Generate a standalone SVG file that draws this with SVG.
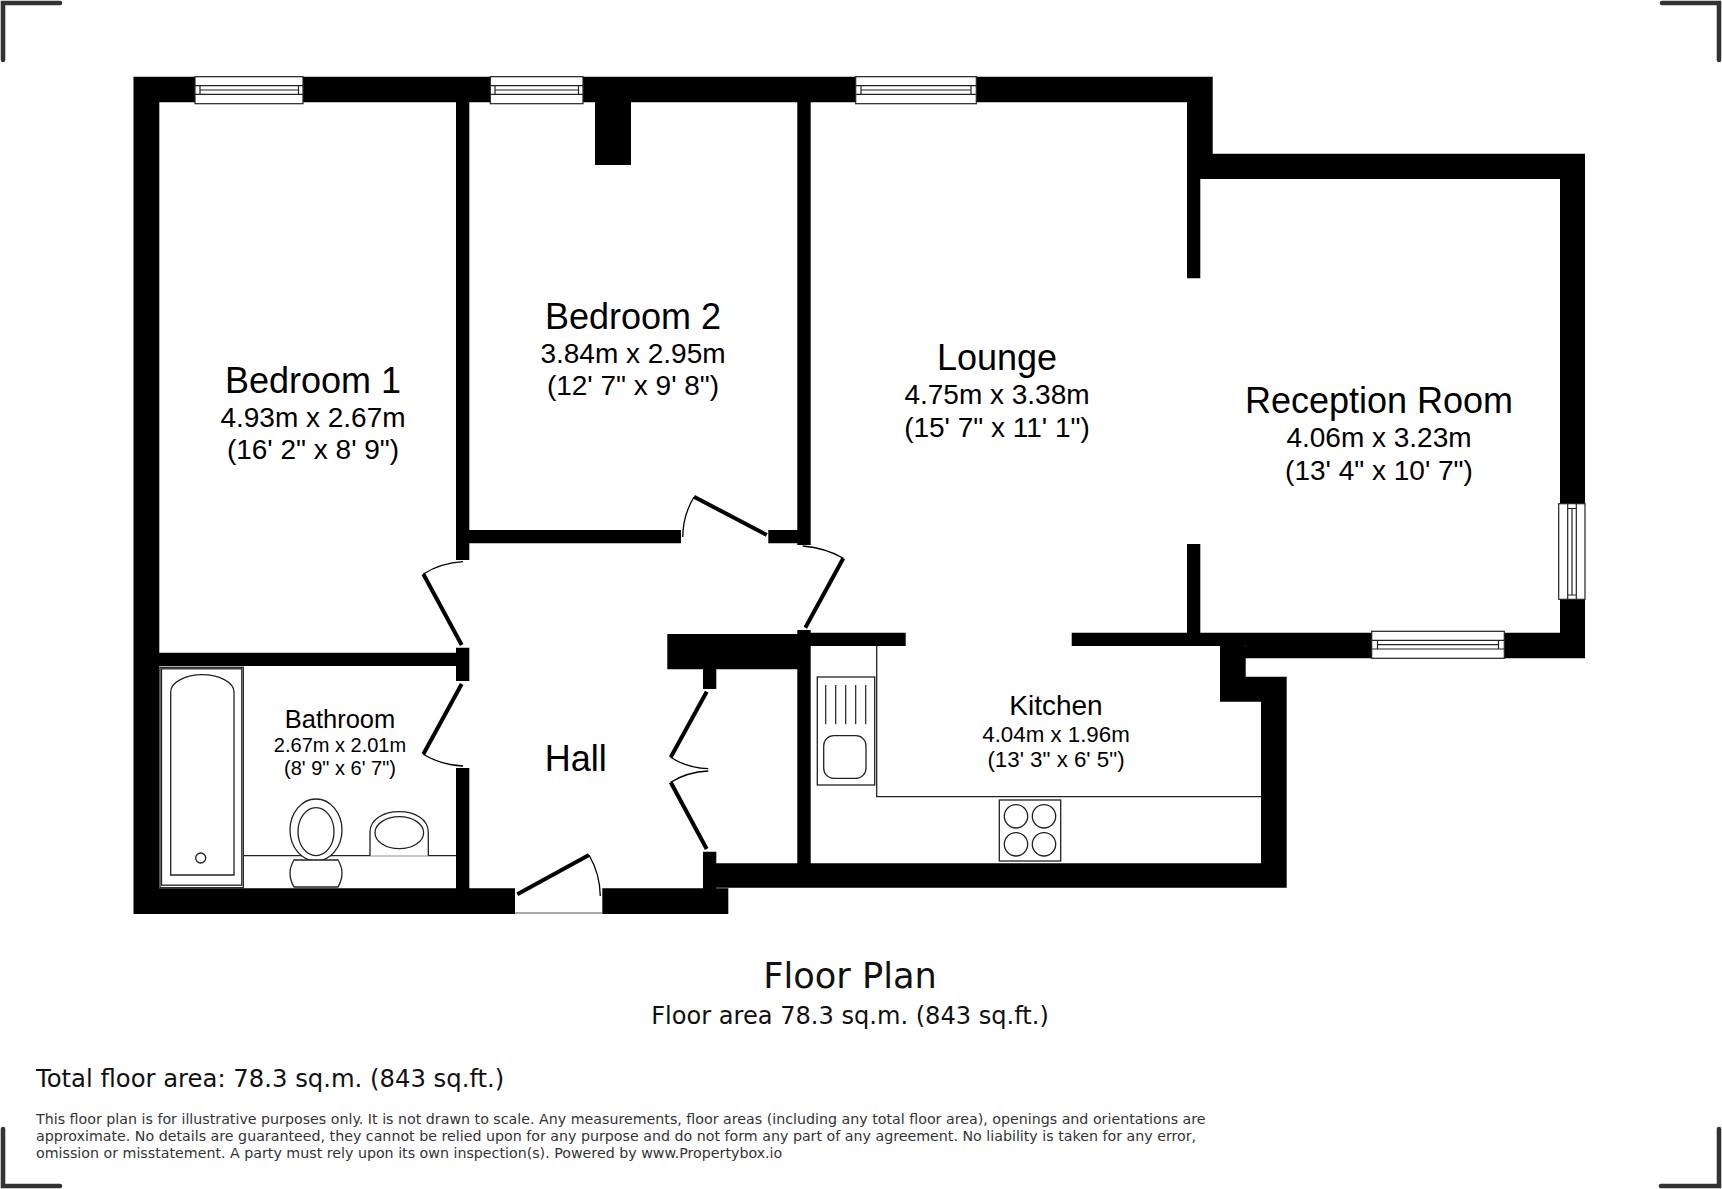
<svg xmlns="http://www.w3.org/2000/svg" width="1722" height="1189" viewBox="0 0 1722 1189">
<style>
.w{fill:#000}
.win{fill:#fff;stroke:#222;stroke-width:1.2}
.leaf{fill:none;stroke:#000;stroke-width:4}
.arc{fill:none;stroke:#000;stroke-width:1.3}
.fx{fill:#fff;stroke:#222;stroke-width:1.3}
.c{fill:none;stroke:#333;stroke-width:4.6;stroke-linecap:round;stroke-linejoin:miter}
text{font-family:"Liberation Sans",Arial,sans-serif;fill:#000;text-anchor:middle}
.n1{font-size:36px}.d1{font-size:28px}
.f{font-family:"DejaVu Sans",Verdana,sans-serif;fill:#111}
.s{font-size:14.23px;text-anchor:start;fill:#333}
</style>
<rect width="1722" height="1189" fill="#fff"/>
<g id="corners">
<path class="c" d="M3 60V3H60"/><path class="c" d="M1662 3H1719V60"/><path class="c" d="M3 1129V1186H60"/><path class="c" d="M1661 1186H1719V1129"/>
</g>
<g id="walls">
<path class="w" d="M133.500 76.700H1212.700V102.300H133.500Z
M133.500 76.700H159.300V914H133.500Z
M456 102H469.300V560H456Z
M469 530H681V543.300H469Z
M768.300 530H797.300V543.300H768.300Z
M797.300 102H810.700V545H797.300Z
M1187 76.700H1212.700V179H1187Z
M1187 179H1200.300V278.300H1187Z
M1187 153.700H1585V179H1187Z
M1560 153.700H1585V658.300H1560Z
M1187 544H1200.300V646H1187Z
M797.300 632.700H905.700V646H797.300Z
M1071.700 632.700H1245.700V646H1071.700Z
M1245.700 632.700H1585V658.300H1245.700Z
M1220 646H1245.700V701.700H1220Z
M1220 676.700H1286.700V701.700H1220Z
M1261 676.700H1286.700V887.700H1261Z
M716.300 863.300H1286.700V887.700H716.300Z
M797.300 630H810.700V864H797.300Z
M667.300 634H797.300V669.300H667.300Z
M703 669H716.300V689H703Z
M703 851.700H716.300V888.500H703Z
M133.500 888.300H515V914H133.500Z
M602.300 888.300H728.300V914H602.300Z
M159 652.700H456V666H159Z
M456 647.700H469.300V681H456Z
M456 768H469.300V889H456Z
M595 102H631V165H595Z"/>
<path d="M515 913H602.300" stroke="#555" stroke-width="1" fill="none"/>
</g>
<g id="windows">
<g id="window1"><rect class="win" x="195" y="76.700" width="108" height="27"/><path class="win" d="M195 85.700H303V94.300H195ZM200 85.700V94.300M298.500 85.700V94.300M200 90H298.500"/></g>
<g id="window2"><rect class="win" x="490.300" y="76.700" width="92.700" height="27"/><path class="win" d="M490.300 85.700H583V94.300H490.300ZM495 85.700V94.300M578.500 85.700V94.300M495 90H578.500"/></g>
<g id="window3"><rect class="win" x="855.700" y="76.700" width="120.600" height="27"/><path class="win" d="M855.700 85.700H976.300V94.300H855.700ZM861 85.700V94.300M971 85.700V94.300M861 90H971"/></g>
<g id="window4"><rect class="win" x="1371.700" y="631.300" width="132.600" height="27"/><path class="win" d="M1371.700 640.300H1504.300V649H1371.700ZM1377.500 640.300V649M1498.500 640.300V649M1377.500 644.700H1498.500" /></g>
<g id="window5"><rect class="win" x="1558.700" y="503.700" width="26.300" height="95.600"/><path class="win" d="M1567.700 503.700V599.300H1576.300V503.700ZM1567.700 508.500H1576.300M1567.700 595H1576.300M1572 508.500V595"/></g>
</g>
<g id="doors">
<path class="leaf" d="M766.700 535L694 496.700"/><path class="arc" d="M694 497Q683 515 682.700 537"/>
<path class="leaf" d="M461.700 645L423.300 574"/><path class="arc" d="M423.300 574Q441 563 463 561.700"/>
<path class="leaf" d="M461.700 684L423.300 754.300"/><path class="arc" d="M423.300 754.300Q441 765 463 766"/>
<path class="leaf" d="M805.300 627.700L843.300 558.300"/><path class="arc" d="M843.300 558.300Q826 548 802.700 546"/>
<path class="leaf" d="M706.700 691.700L670.700 757.300"/><path class="arc" d="M670.700 757.300Q687 768 708.300 768.700"/>
<path class="leaf" d="M706.700 849L670.700 782.300"/><path class="arc" d="M670.700 782.300Q687 772 708.300 771"/>
<path class="leaf" d="M517.300 894.300L589 855"/><path class="arc" d="M589 855Q600 874 600.300 896"/>
</g>
<g id="bathroom-fittings">
<path d="M243.300 855.700H456" stroke="#222" stroke-width="1.200" fill="none"/>
<rect class="fx" x="160" y="667.300" width="83.300" height="220.400"/>
<rect class="fx" x="161.500" y="668.800" width="80.300" height="216.400"/>
<path class="fx" d="M170.700 875V692C170.700 682 186 674.700 202.300 674.700S234 682 234 692V875Z"/>
<circle class="fx" cx="200.700" cy="858" r="5"/>
<path class="fx" d="M370 855.700V832C370 819 384 811.700 399.300 811.700S428.300 819 428.300 832V855.700"/>
<ellipse class="fx" cx="399.300" cy="832.700" rx="24.300" ry="16"/>
<ellipse class="fx" cx="316" cy="830" rx="26" ry="31"/>
<ellipse class="fx" cx="316" cy="831.700" rx="18" ry="24"/>
<path class="fx" d="M294 860H338Q346 873 338 887H294Q286 873 294 860Z"/>
</g>
<g id="kitchen-fittings">
<path d="M876.700 646V796.700H1261" stroke="#222" stroke-width="1.300" fill="none"/>
<rect class="fx" x="817.300" y="677" width="57.400" height="108"/>
<path d="M825.700 685V724.300M835.700 685V724.300M845.700 685V724.300M855.700 685V724.300M865.700 685V724.300" stroke="#222" stroke-width="1.200"/>
<rect class="fx" x="823.700" y="735.700" width="42.300" height="42.600" rx="10"/>
<rect class="fx" x="999.300" y="800" width="61.400" height="61"/>
<circle class="fx" cx="1016" cy="816.300" r="11.700"/><circle class="fx" cx="1044" cy="816.300" r="11.700"/>
<circle class="fx" cx="1016" cy="844.300" r="11.700"/><circle class="fx" cx="1044" cy="844.300" r="11.700"/>
</g>
<g id="bedroom1"><text class="n1" x="313" y="393">Bedroom 1</text><text class="d1" x="313" y="427">4.93m x 2.67m</text><text class="d1" x="313" y="459">(16' 2" x 8' 9")</text></g>
<g id="bedroom2"><text class="n1" x="633" y="329">Bedroom 2</text><text class="d1" x="633" y="363">3.84m x 2.95m</text><text class="d1" x="633" y="395">(12' 7" x 9' 8")</text></g>
<g id="lounge"><text class="n1" x="997" y="370">Lounge</text><text class="d1" x="997" y="404">4.75m x 3.38m</text><text class="d1" x="997" y="437">(15' 7" x 11' 1")</text></g>
<g id="reception"><text class="n1" x="1379" y="413">Reception Room</text><text class="d1" x="1379" y="447">4.06m x 3.23m</text><text class="d1" x="1379" y="480">(13' 4" x 10' 7")</text></g>
<g id="kitchen"><text font-size="28" x="1056" y="715">Kitchen</text><text font-size="22.300" x="1056" y="741.700">4.04m x 1.96m</text><text font-size="22.300" x="1056" y="767">(13' 3" x 6' 5")</text></g>
<g id="bathroom"><text font-size="25.500" x="340" y="727.700">Bathroom</text><text font-size="20" x="340" y="751.700">2.67m x 2.01m</text><text font-size="20" x="340" y="775">(8' 9" x 6' 7")</text></g>
<g id="hall"><text class="n1" x="575.700" y="770.700">Hall</text></g>
<g id="titles">
<text class="f" font-size="35.200" x="850" y="988">Floor Plan</text>
<text class="f" font-size="24.100" x="850" y="1024">Floor area 78.3 sq.m. (843 sq.ft.)</text>
<text class="f" font-size="24.300" x="36" y="1086.700" style="text-anchor:start">Total floor area: 78.3 sq.m. (843 sq.ft.)</text>
<text class="f s" x="36" y="1124">This floor plan is for illustrative purposes only. It is not drawn to scale. Any measurements, floor areas (including any total floor area), openings and orientations are</text>
<text class="f s" x="36" y="1141">approximate. No details are guaranteed, they cannot be relied upon for any purpose and do not form any part of any agreement. No liability is taken for any error,</text>
<text class="f s" x="36" y="1158">omission or misstatement. A party must rely upon its own inspection(s). Powered by www.Propertybox.io</text>
</g>
</svg>
